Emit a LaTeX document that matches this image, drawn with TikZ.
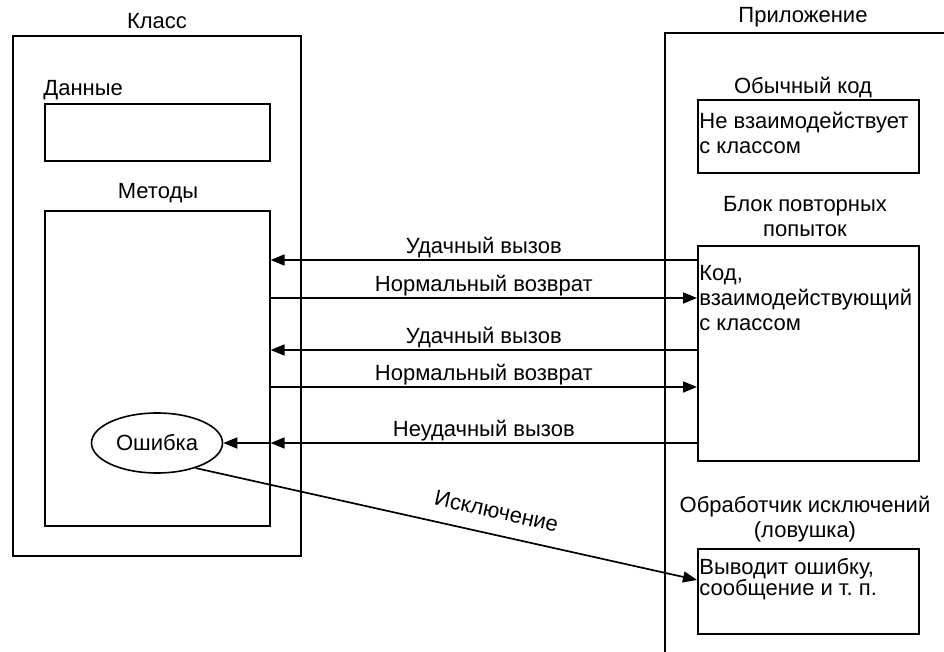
\documentclass[tikz,border=0pt]{standalone}
\usepackage{fontspec}
\setmainfont{Liberation Sans}
\usetikzlibrary{arrows.meta,positioning,shapes.geometric}

\tikzset{
  box/.style={draw,line width=0.8pt,inner sep=0pt,anchor=north west},
  txt/.style={font=\fontsize{11}{12.5}\selectfont,inner sep=0pt},
  call/.style={line width=0.85pt,-{Triangle[length=7pt,width=5.5pt]}},
  lbl/.style={txt,midway,anchor=base,yshift=3pt}
}

\begin{document}
\begin{tikzpicture}[x=0.5pt,y=-0.5pt]
  \useasboundingbox (0,0) rectangle (944,652);

  % Class
  \node[box,minimum width=144pt,minimum height=260pt] (klass) at (12,35) {};
  \node[txt] (klasst) at (157,21) {Класс};
  \node[box,minimum width=112.5pt,minimum height=28.5pt] (dannye) at (44,103) {};
  \node[txt,anchor=west] (dannyet) at (43,90) {Данные};
  \node[box,minimum width=112.5pt,minimum height=157.5pt] (meth) at (44,210) {};
  \node[txt] (metht) at (158,193) {Методы};
  \node[draw,ellipse,line width=0.8pt,txt,minimum width=65.5pt,minimum height=30pt] (err) at (157,443) {Ошибка};

  % Application
  \draw[line width=0.8pt] (944,33) -- (665,33) -- (665,652);
  \node[txt] (prilt) at (803,17) {Приложение};
  \node[txt] (obycht) at (803,88) {Обычный код};
  \node[box,minimum width=110.5pt,minimum height=36.5pt] (obych) at (697,99) {};
  \node[txt,align=left,anchor=north west] (obychtxt) at (699,112) {Не взаимодействует\\с классом};
  \node[txt,align=center] (blokt) at (805,217) {Блок повторных\\попыток};
  \node[box,minimum width=110.5pt,minimum height=107.5pt] (blok) at (697,245) {};
  \node[txt,align=left,anchor=north west] (bloktxt) at (699,265) {Код,\\взаимодействующий\\с классом};
  \node[txt,align=center] (obrt) at (805,519) {Обработчик исключений\\(ловушка)};
  \node[box,minimum width=110.5pt,minimum height=42.5pt] (obr) at (697,548) {};
  \node[txt,align=left,anchor=north west] (obrtxt) at (699,558) {Выводит ошибку,\\[-2pt]сообщение и т.~п.};

  % calls and returns
  \foreach \yy in {260,350}
    \draw[call] (blok.west |- 0,\yy) -- node[lbl] {Удачный вызов} (meth.east |- 0,\yy);
  \foreach \yy in {298,387}
    \draw[call] (meth.east |- 0,\yy) -- node[lbl] {Нормальный возврат} (blok.west |- 0,\yy);
  \draw[call] (blok.west |- 0,443) -- node[lbl] {Неудачный вызов} (meth.east |- 0,443);
  \draw[call] (meth.east |- 0,443) -- (err.east);

  % exception
  \draw[call] (err.-33) -- node[txt,pos=0.59,sloped,above=7.5pt] {Исключение} ([yshift=-16pt]obr.north west);
\end{tikzpicture}
\end{document}
